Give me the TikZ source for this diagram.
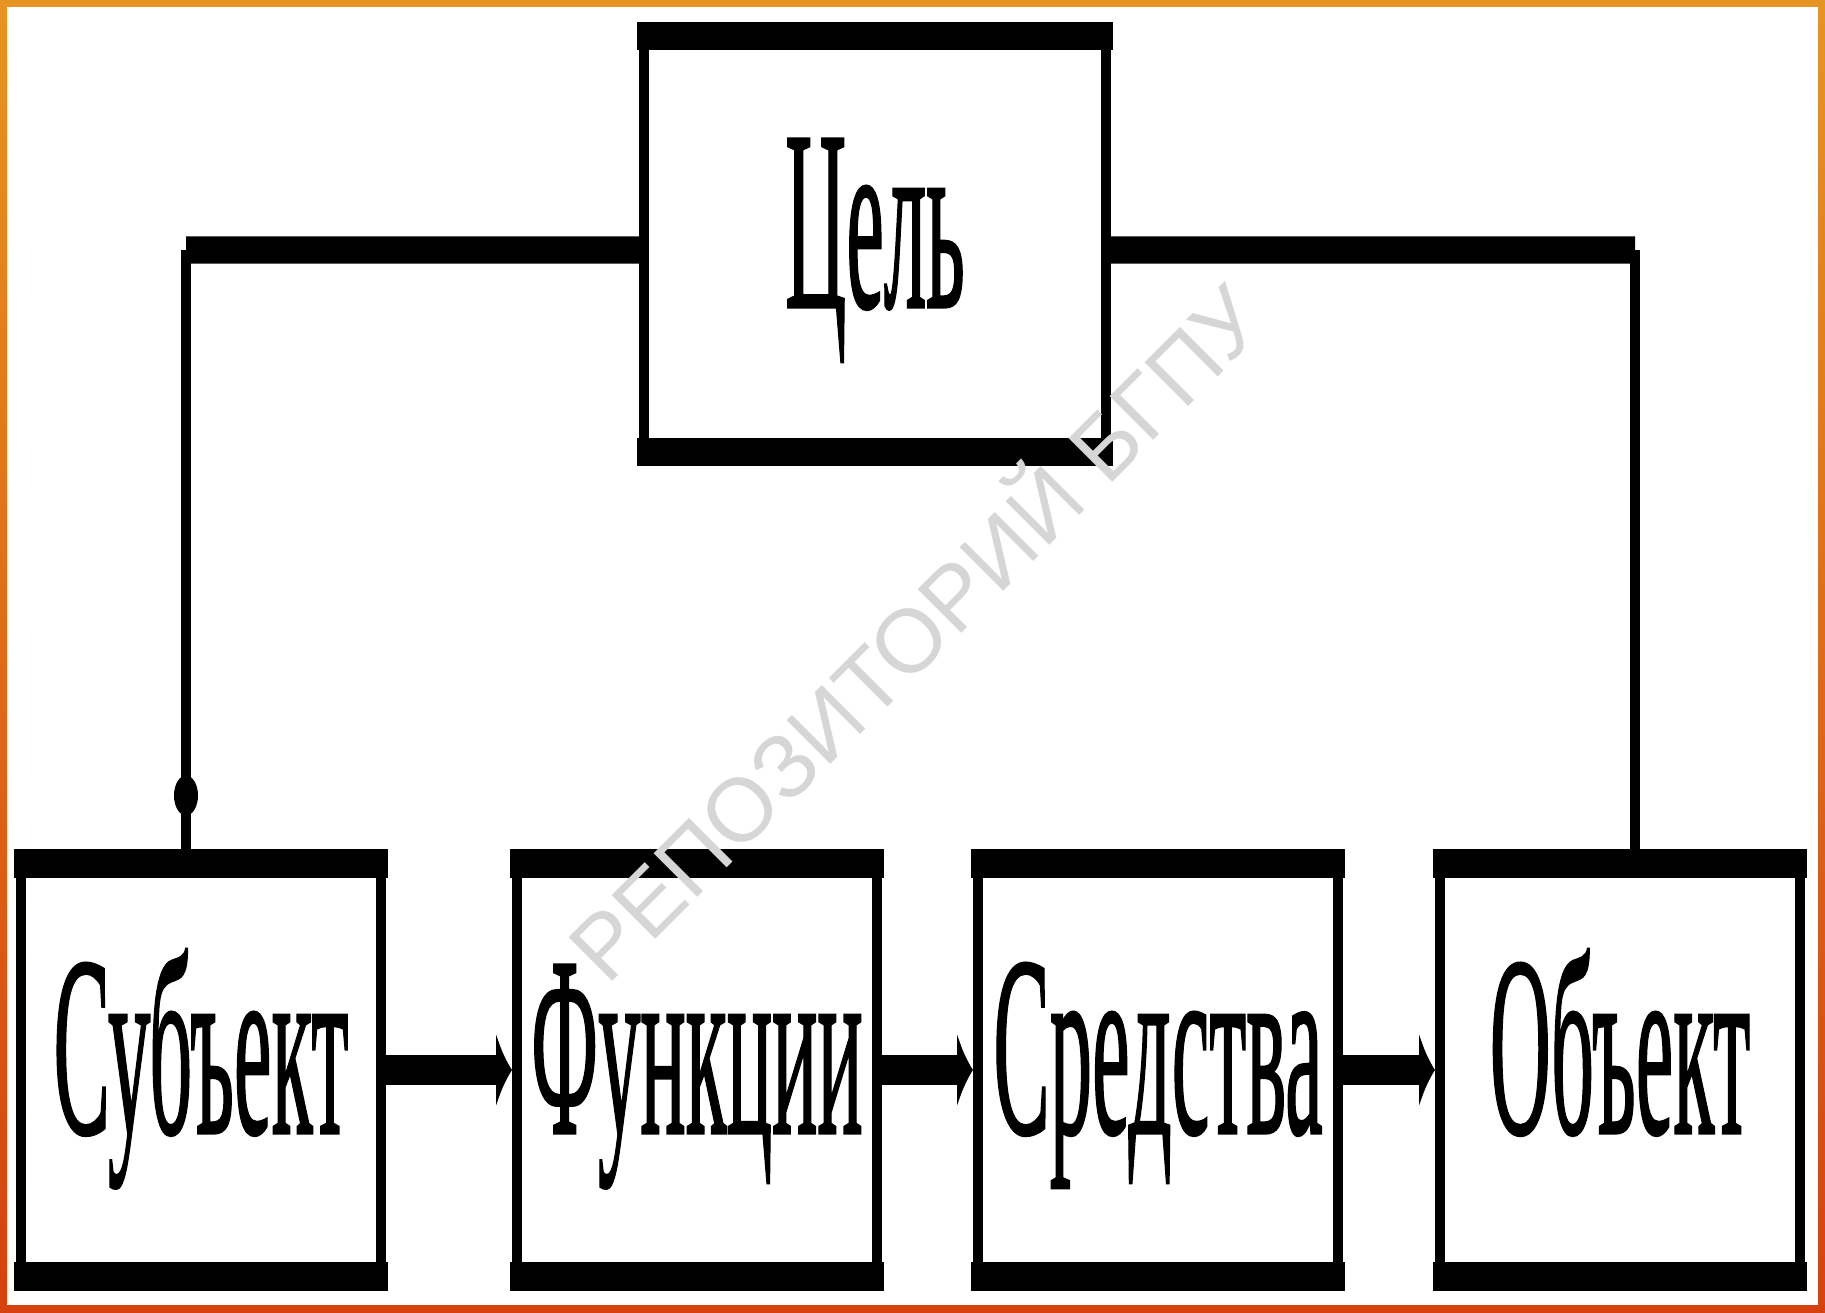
\documentclass[tikz,border=0pt]{standalone}
\usepackage{fontspec}
\usepackage{graphicx}
\newfontfamily\boxfont[FakeBold=1.3]{Liberation Serif}
\newfontfamily\markfont{Liberation Sans}
\newcommand{\squeeze}[1]{\scalebox{0.33}[1]{#1}}
\usetikzlibrary{%
  arrows.meta,%
  calc,%
  decorations.markings%
}
\definecolor{frametop}{HTML}{E69422}
\definecolor{framebot}{HTML}{D5420F}
\definecolor{wmgray}{HTML}{D6D6D6}

\begin{document}
\begin{tikzpicture}
[draw=black, line width=2.85pt,
box/.style={rectangle, draw, fill=white, inner sep=0pt, minimum width=3.6cm, minimum height=4.03cm, text height=1.69cm, text depth=0.43cm, font=\boxfont\fontsize{73}{80}\selectfont},
goalbox/.style={box, minimum width=4.62cm, minimum height=4.06cm},
bar/.style={line width=8pt, shorten <=-0.02cm, shorten >=-0.02cm},
link/.style={line width=7.7pt},
drop/.style={line width=3.1pt},
flow/.style={line width=8.5pt, -{Latex[length=1.6mm,width=7.7mm]}}]

% frame
\useasboundingbox (0,0) rectangle (18.25,13.12);
\shade[top color=frametop, bottom color=framebot] (0,0) rectangle (18.25,13.12);
\fill[white] (0.07,0.07) rectangle (18.18,13.05);

\node[goalbox] (goal) at (8.75,10.68) {\squeeze{Цель}};

\node[box] (subj) at (2.01,2.42) {\squeeze{Субъект}};
\node[box] (func) at (6.97,2.42) {\squeeze{Функции}};
\node[box] (means) at (11.58,2.42) {\squeeze{Средства}};
\node[box] (obj) at (16.20,2.42) {\squeeze{Объект}};

% thick top and bottom edges
\foreach \n in {goal,subj,func,means,obj}{
  \draw[bar] (\n.north west) -- (\n.north east);
  \draw[bar] (\n.south west) -- (\n.south east);
}

\coordinate (lc) at ($(goal.west -| subj.north)+(-0.15,-0.06)$);
\coordinate (rc) at ($(goal.east -| obj.north)+(0.15,-0.06)$);

\draw[link] ([yshift=-0.6mm]goal.west) -- (lc);
\draw[drop, postaction={decorate}, decoration={markings, mark=at position -0.68cm with {\fill (0,0) ellipse (0.2cm and 0.12cm);}}] (lc) -- (lc |- subj.north);
\draw[link] ([yshift=-0.6mm]goal.east) -- (rc);
\draw[drop] (rc) -- (rc |- obj.north);

\draw[flow] (subj) -- (func);
\draw[flow] (func) -- (means);
\draw[flow] (means) -- (obj);

\node[rotate=45, text=wmgray, font=\markfont\fontsize{25.5}{30}\selectfont] (wmark) at (9.10,6.84) {РЕПОЗИТОРИЙ БГПУ};
\end{tikzpicture}
\end{document}
